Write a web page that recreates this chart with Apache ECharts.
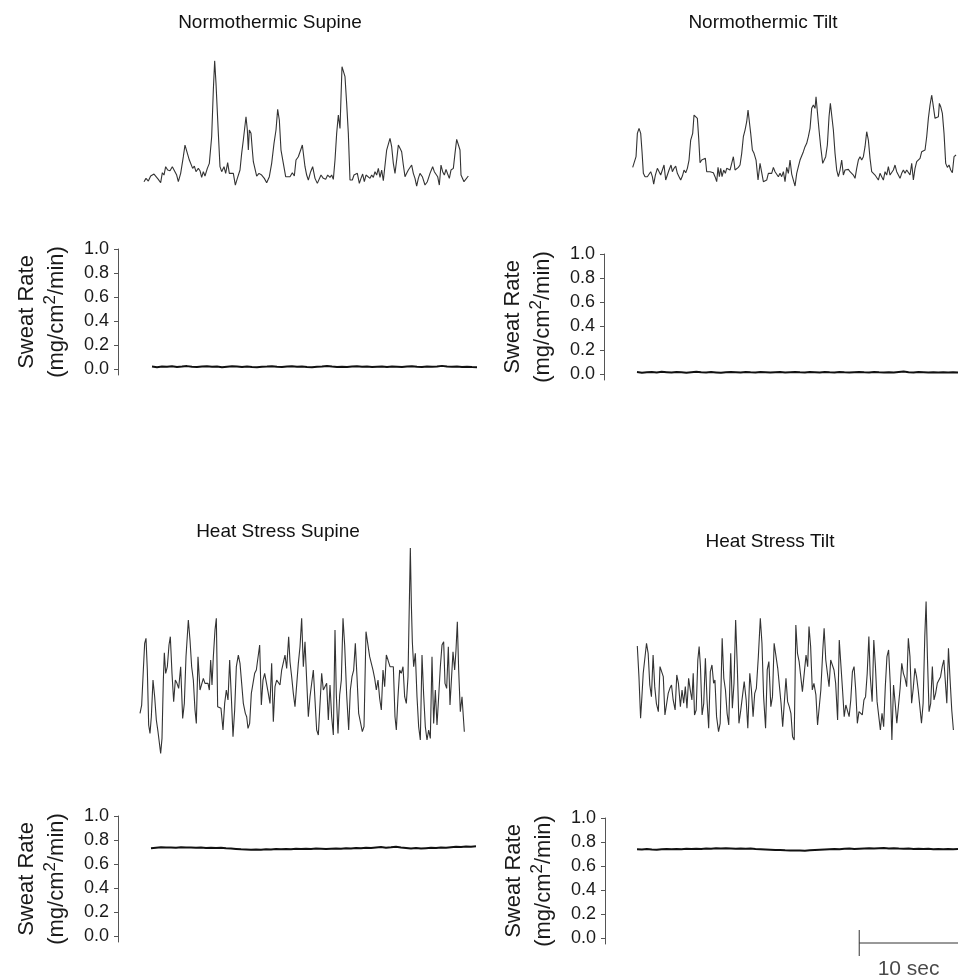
<!DOCTYPE html>
<html>
<head>
<meta charset="utf-8">
<script src="https://cdn.jsdelivr.net/npm/echarts@6/dist/echarts.min.js"></script>
<style>
  html, body { margin: 0; padding: 0; background: #fff; }
  #chart { width: 958px; height: 978px; }
</style>
</head>
<body>
<div id="chart"></div>
<script>
// integrated nerve traces: [sample @ 30 Hz, amplitude a.u.]
const SAMPLE_HZ = 30
const SWEAT_STEP = 0.5 // s between sweat rate samples

const panelTitles = ['Normothermic Supine', 'Normothermic Tilt', 'Heat Stress Supine', 'Heat Stress Tilt']
const sweatTicks = [0, 0.2, 0.4, 0.6, 0.8, 1.0]
const scaleBarStart = 22.5
const scaleBarSeconds = 10

const msnaNormoSupine = [
  [0,15],[6,25],[13,17],[20,32],[30,38],[36,40],[43,22],[50,12],[55,42],[60,35],[65,60],[71,50],[78,48],[85,60],[91,55],
  [98,35],[103,15],[110,40],[118,90],[123,125],[128,120],[136,80],[141,75],[146,55],[151,62],[156,45],[163,55],[168,48],
  [173,28],[178,45],[183,32],[190,55],[196,70],[203,150],[208,290],[212,378],[216,310],[223,160],[228,60],[233,45],[240,60],
  [245,40],[251,72],[256,40],[261,45],[268,40],[274,5],[280,25],[288,50],[293,100],[298,140],[303,135],[306,210],[310,170],
  [313,110],[316,170],[321,160],[325,110],[328,75],[333,80],[338,32],[345,40],[353,35],[361,25],[368,12],[376,30],[383,70],
  [390,130],[396,170],[401,232],[406,200],[411,110],[418,70],[425,30],[430,32],[438,30],[445,42],[451,32],[456,80],[463,90],
  [470,110],[475,125],[478,125],[483,60],[488,35],[493,20],[500,45],[506,60],[513,25],[520,10],[526,5],[531,35],[538,25],
  [545,22],[551,35],[558,28],[563,35],[568,22],[573,80],[578,160],[583,215],[588,175],[594,360],[598,365],[603,330],[608,250],
  [613,160],[618,20],[625,20],[630,35],[636,30],[640,40],[646,10],[651,25],[656,38],[661,15],[666,35],[671,37],[678,25],
  [683,35],[688,28],[693,45],[698,35],[703,55],[708,28],[713,50],[718,18],[723,22],[728,110],[733,112],[738,145],[743,120],
  [748,70],[753,40],[758,80],[763,125],[768,115],[773,105],[778,65],[783,30],[788,40],[793,50],[798,55],[803,65],[808,40],
  [813,25],[818,2],[823,25],[828,40],[835,30],[843,5],[850,15],[858,40],[866,60],[871,45],[876,50],[881,30],[886,5],[891,65],
  [896,45],[901,35],[906,52],[911,38],[916,25],[921,50],[928,55],[933,100],[938,142],[943,138],[948,110],[951,35],[955,38],
  [960,15],[966,20],[973,32]
]

const msnaNormoTilt = [
  [0,58],[5,52],[10,90],[14,160],[19,175],[24,160],[28,105],[32,40],[37,30],[44,30],[50,32],[54,45],[59,30],[63,8],[68,35],
  [74,55],[80,50],[84,35],[89,50],[94,65],[99,20],[104,35],[109,50],[115,65],[119,45],[124,55],[129,62],[134,40],[139,30],
  [144,20],[149,32],[154,50],[159,42],[164,55],[169,80],[174,140],[180,160],[184,215],[189,220],[194,205],[198,145],[202,72],
  [207,80],[212,85],[218,85],[222,45],[227,50],[232,45],[237,45],[242,42],[247,30],[252,15],[256,58],[260,30],[264,55],
  [268,30],[273,50],[278,40],[282,55],[287,50],[292,50],[297,55],[302,90],[307,50],[312,55],[317,58],[322,65],[327,100],
  [332,150],[337,170],[342,195],[346,230],[350,195],[354,160],[359,110],[364,100],[370,80],[376,20],[382,70],[387,70],
  [392,15],[397,10],[402,20],[407,40],[412,45],[417,40],[422,58],[427,45],[432,50],[437,30],[442,40],[447,30],[452,45],
  [457,15],[462,58],[467,40],[472,80],[477,38],[482,20],[487,2],[492,40],[497,60],[502,80],[507,80],[512,105],[517,120],
  [522,130],[527,150],[532,175],[537,235],[542,245],[547,235],[550,270],[554,225],[559,170],[564,120],[570,70],[574,75],
  [579,90],[584,125],[589,210],[593,250],[597,252],[602,170],[607,100],[612,50],[617,30],[622,50],[627,80],[632,35],[637,50],
  [642,45],[647,52],[652,45],[657,50],[662,35],[667,25],[672,55],[677,80],[682,90],[687,80],[692,90],[697,120],[702,165],
  [707,140],[712,85],[717,45],[722,45],[727,35],[732,40],[737,20],[742,40],[747,30],[752,20],[757,45],[762,35],[767,60],
  [772,35],[777,40],[782,50],[787,65],[792,45],[797,35],[802,25],[807,40],[812,50],[817,40],[822,50],[827,45],[832,35],
  [837,70],[842,20],[847,55],[852,75],[857,70],[862,85],[867,105],[872,110],[877,110],[882,150],[887,205],[892,245],
  [897,275],[902,240],[907,205],[912,200],[917,210],[920,250],[924,240],[929,220],[934,160],[939,70],[944,58],[949,65],
  [954,50],[959,42],[964,90],[970,95]
]

const msnaHeatSupine = [
  [0,130],[5,155],[10,260],[14,340],[18,355],[22,260],[26,95],[30,70],[34,120],[39,230],[44,180],[49,110],[54,75],[58,75],
  [62,10],[66,55],[70,230],[73,312],[77,250],[82,270],[87,335],[91,360],[96,250],[101,165],[106,230],[111,220],[116,205],
  [122,270],[128,115],[133,160],[138,300],[145,410],[150,350],[155,270],[160,230],[165,140],[169,100],[174,300],[180,200],
  [185,205],[190,235],[195,220],[200,215],[204,220],[208,200],[212,290],[216,215],[220,300],[225,380],[229,415],[233,150],
  [238,145],[243,145],[249,80],[254,160],[259,200],[264,170],[269,290],[274,180],[279,60],[284,140],[289,270],[295,305],
  [300,280],[305,220],[310,160],[316,130],[320,120],[324,85],[329,100],[334,190],[339,220],[344,250],[349,260],[354,260],
  [359,335],[364,155],[369,230],[374,250],[379,250],[384,195],[390,160],[395,280],[400,105],[405,210],[410,230],[415,230],
  [420,215],[425,260],[430,255],[435,305],[440,265],[446,360],[450,285],[455,240],[460,190],[465,150],[470,145],[475,280],
  [480,330],[485,415],[490,270],[495,345],[500,230],[505,120],[510,180],[515,185],[520,260],[525,255],[530,80],[535,65],
  [540,60],[545,250],[550,200],[555,200],[560,220],[565,110],[570,215],[575,120],[580,65],[585,380],[589,185],[594,70],
  [599,185],[604,230],[609,415],[614,335],[620,185],[626,80],[631,200],[636,240],[641,260],[646,340],[651,240],[656,130],
  [661,125],[667,75],[672,90],[678,375],[684,375],[689,300],[694,295],[699,260],[704,235],[709,200],[714,230],[719,175],
  [724,140],[729,260],[734,210],[739,305],[744,290],[750,270],[755,270],[760,270],[765,120],[769,80],[774,180],[779,260],
  [784,250],[789,270],[794,180],[799,160],[804,240],[808,460],[811,626],[814,460],[817,345],[821,270],[826,310],[831,180],
  [836,90],[841,50],[846,305],[851,185],[856,90],[861,50],[866,80],[871,55],[876,300],[881,100],[886,200],[891,95],[896,180],
  [901,270],[906,335],[911,345],[915,220],[920,205],[925,330],[930,155],[935,150],[939,315],[944,260],[948,320],[952,405],
  [956,260],[961,135],[966,180],[973,75]
]

const msnaHeatTilt = [
  [0,292],[5,200],[10,75],[14,140],[18,210],[23,210],[28,300],[33,270],[38,175],[43,140],[48,265],[53,170],[58,120],[64,95],
  [69,230],[74,235],[79,200],[84,85],[89,90],[94,150],[99,165],[104,175],[109,130],[115,100],[120,205],[125,180],[131,110],
  [136,160],[141,120],[146,170],[151,105],[156,195],[161,160],[166,130],[170,210],[174,85],[179,100],[184,250],[188,290],
  [192,230],[197,85],[202,120],[207,255],[212,130],[217,45],[222,215],[227,235],[232,180],[236,190],[241,80],[247,35],
  [252,60],[258,315],[263,195],[268,160],[273,90],[278,55],[284,270],[289,105],[294,180],[299,370],[304,230],[309,60],
  [314,95],[320,100],[325,185],[331,130],[336,45],[342,210],[347,160],[352,80],[357,150],[362,165],[368,260],[374,375],
  [379,300],[384,140],[390,45],[395,220],[400,245],[406,110],[411,140],[416,300],[422,300],[427,225],[432,225],[437,120],
  [442,50],[447,50],[452,195],[457,125],[462,110],[467,90],[472,20],[477,10],[482,355],[487,270],[492,245],[497,200],
  [502,155],[508,215],[513,265],[518,230],[522,350],[527,290],[532,160],[537,180],[543,145],[548,55],[553,55],[558,160],
  [564,280],[568,345],[573,250],[578,245],[583,170],[588,250],[593,245],[598,220],[603,180],[609,70],[614,310],[619,315],
  [624,160],[629,80],[634,115],[639,115],[644,80],[649,130],[654,215],[659,230],[664,160],[669,60],[674,95],[679,95],
  [684,85],[689,130],[694,140],[699,210],[704,320],[708,205],[714,125],[719,310],[724,230],[729,125],[734,120],[739,40],
  [744,90],[749,50],[754,170],[759,260],[764,280],[769,180],[774,10],[779,175],[784,120],[789,60],[794,55],[799,165],
  [804,240],[809,210],[814,195],[819,170],[824,315],[829,260],[834,120],[839,165],[844,225],[849,200],[854,160],[859,110],
  [864,60],[869,120],[874,320],[878,425],[882,260],[887,95],[892,120],[897,230],[902,130],[907,150],[912,180],[917,175],
  [922,200],[927,230],[932,250],[937,250],[941,120],[946,285],[951,190],[956,100],[961,40]
]

// sweat rate (mg/cm2/min), one value every 0.5 s
const sweatNormoSupine = [
  0.020, 0.015, 0.020, 0.018, 0.022, 0.017, 0.020, 0.024, 0.019, 0.016, 0.020, 0.022, 0.018, 0.020, 0.015, 0.019,
  0.022, 0.020, 0.017, 0.021, 0.016, 0.014, 0.018, 0.020, 0.023, 0.019, 0.016, 0.020, 0.022, 0.018, 0.020, 0.017,
  0.015, 0.019, 0.021, 0.024, 0.020, 0.017, 0.019, 0.016, 0.020, 0.022, 0.018, 0.020, 0.016, 0.019, 0.021, 0.017,
  0.020, 0.018, 0.016, 0.020, 0.022, 0.019, 0.017, 0.020, 0.018, 0.021, 0.026, 0.020, 0.018, 0.020, 0.017, 0.019,
  0.016, 0.015
]
const sweatNormoTilt = [
  0.016, 0.010, 0.014, 0.017, 0.013, 0.018, 0.015, 0.012, 0.016, 0.014, 0.011, 0.015, 0.018, 0.014, 0.012, 0.016,
  0.013, 0.010, 0.014, 0.017, 0.015, 0.012, 0.016, 0.014, 0.013, 0.017, 0.015, 0.012, 0.014, 0.016, 0.013, 0.015,
  0.017, 0.014, 0.012, 0.016, 0.015, 0.013, 0.017, 0.014, 0.012, 0.016, 0.014, 0.013, 0.015, 0.017, 0.014, 0.012,
  0.016, 0.014, 0.013, 0.015, 0.012, 0.016, 0.020, 0.015, 0.013, 0.016, 0.014, 0.012, 0.015, 0.013, 0.014, 0.012,
  0.014, 0.013
]
const sweatHeatSupine = [
  0.732, 0.736, 0.740, 0.737, 0.738, 0.736, 0.739, 0.737, 0.738, 0.735, 0.737, 0.734, 0.736, 0.733, 0.735, 0.731,
  0.730, 0.726, 0.722, 0.720, 0.718, 0.721, 0.719, 0.722, 0.720, 0.724, 0.722, 0.725, 0.723, 0.727, 0.724, 0.728,
  0.726, 0.729, 0.727, 0.725, 0.728, 0.730, 0.727, 0.731, 0.729, 0.733, 0.731, 0.735, 0.733, 0.737, 0.741, 0.736,
  0.739, 0.743, 0.738, 0.734, 0.730, 0.733, 0.729, 0.732, 0.735, 0.733, 0.738, 0.735, 0.740, 0.744, 0.742, 0.746,
  0.744, 0.748
]
const sweatHeatTilt = [
  0.740, 0.738, 0.741, 0.737, 0.736, 0.739, 0.741, 0.739, 0.742, 0.740, 0.743, 0.741, 0.744, 0.742, 0.745, 0.743,
  0.747, 0.745, 0.748, 0.746, 0.744, 0.746, 0.743, 0.745, 0.742, 0.740, 0.738, 0.736, 0.734, 0.733, 0.731, 0.730,
  0.729, 0.730, 0.728, 0.731, 0.733, 0.735, 0.737, 0.739, 0.741, 0.740, 0.743, 0.745, 0.742, 0.744, 0.746, 0.748,
  0.745, 0.747, 0.749, 0.746, 0.748, 0.745, 0.743, 0.745, 0.742, 0.744, 0.741, 0.743, 0.740, 0.742, 0.739, 0.741,
  0.740, 0.741
]

const msnaSets = [msnaNormoSupine, msnaNormoTilt, msnaHeatSupine, msnaHeatTilt]
const sweatSets = [sweatNormoSupine, sweatNormoTilt, sweatHeatSupine, sweatHeatTilt]

const FONT = 'Arial, "Liberation Sans", Helvetica, sans-serif'
const TRACE_SECONDS = 32.5

// layout (px) for each panel
const msnaBoxes = [
  { left: 144, top: 60.7, height: 126, yMax: 378 },
  { left: 632.7, top: 86.7, height: 100, yMax: 300 },
  { left: 140, top: 546.7, height: 210, yMax: 630 },
  { left: 637.3, top: 598.3, height: 145, yMax: 435 },
]
const sweatBoxes = [
  { left: 152, top: 249, axisX: 118 },
  { left: 637, top: 254, axisX: 604 },
  { left: 151, top: 816, axisX: 118 },
  { left: 637, top: 818, axisX: 605 },
]
const titlePos = [
  { x: 270, y: 13 },
  { x: 763, y: 13 },
  { x: 278, y: 522 },
  { x: 770, y: 532 },
]

const SWEAT_MIN = -0.05
const PX_PER_UNIT = 120

const chart = echarts.init(document.getElementById('chart'), null, { renderer: 'canvas' })

const grids = []
const xAxes = []
const yAxes = []
const series = []

msnaBoxes.forEach((b, i) => {
  grids.push({ left: b.left, top: b.top, width: TRACE_SECONDS * 10, height: b.height })
  xAxes.push({ gridIndex: grids.length - 1, type: 'value', min: 0, max: TRACE_SECONDS, show: false })
  yAxes.push({ gridIndex: grids.length - 1, type: 'value', min: 0, max: b.yMax, show: false })
  series.push({
    type: 'line',
    xAxisIndex: xAxes.length - 1,
    yAxisIndex: yAxes.length - 1,
    data: msnaSets[i].map(p => [p[0] / SAMPLE_HZ, p[1]]),
    showSymbol: false,
    lineStyle: { color: '#333', width: 1.1 },
    silent: true,
  })
})

sweatBoxes.forEach((b, i) => {
  grids.push({
    left: b.left, top: b.top,
    width: TRACE_SECONDS * 10,
    height: (1 - SWEAT_MIN) * PX_PER_UNIT,
  })
  xAxes.push({ gridIndex: grids.length - 1, type: 'value', min: 0, max: TRACE_SECONDS, show: false })
  yAxes.push({
    gridIndex: grids.length - 1,
    type: 'value',
    min: SWEAT_MIN, max: 1,
    offset: b.left - b.axisX,
    splitLine: { show: false },
    axisLine: { show: true, onZero: false, lineStyle: { color: '#555', width: 1 } },
    axisTick: { show: true, length: 4, customValues: sweatTicks, lineStyle: { color: '#555' } },
    axisLabel: {
      customValues: sweatTicks,
      formatter: v => v.toFixed(1),
      color: '#1a1a1a', fontSize: 18, fontFamily: FONT, margin: 9,
    },
    name: '{t|Sweat Rate}\n{t|(mg/cm}{s|2}{t|/min)}',
    nameLocation: 'middle',
    nameGap: 46,
    nameRotate: 90,
    nameTextStyle: {
      rich: {
        t: { fontSize: 22, fontFamily: FONT, color: '#1a1a1a', lineHeight: 30 },
        s: { fontSize: 17, fontFamily: FONT, color: '#1a1a1a', lineHeight: 18, verticalAlign: 'top' },
      },
    },
  })
  series.push({
    type: 'line',
    xAxisIndex: xAxes.length - 1,
    yAxisIndex: yAxes.length - 1,
    data: sweatSets[i].map((v, k) => [k * SWEAT_STEP, v]),
    showSymbol: false,
    lineStyle: { color: '#111', width: 2 },
    silent: true,
  })
})

// time scale bar, drawn on the heat-stress tilt time axis
grids.push({ left: 637, top: 930, width: TRACE_SECONDS * 10, height: 26 })
xAxes.push({ gridIndex: grids.length - 1, type: 'value', min: 0, max: TRACE_SECONDS, show: false })
yAxes.push({ gridIndex: grids.length - 1, type: 'value', min: 0, max: 1, show: false })
const barX = xAxes.length - 1
series.push({
  type: 'line', xAxisIndex: barX, yAxisIndex: barX, clip: false,
  data: [[scaleBarStart, 0.5], [scaleBarStart + scaleBarSeconds, 0.5]],
  showSymbol: false, lineStyle: { color: '#333', width: 1 }, silent: true,
})
series.push({
  type: 'line', xAxisIndex: barX, yAxisIndex: barX, clip: false,
  data: [[scaleBarStart, 0], [scaleBarStart, 1]],
  showSymbol: false, lineStyle: { color: '#333', width: 1 }, silent: true,
})
series.push({
  type: 'scatter', xAxisIndex: barX, yAxisIndex: barX, clip: false,
  data: [[scaleBarStart + scaleBarSeconds / 2, 0]],
  symbolSize: 0,
  label: {
    show: true, position: 'bottom', distance: 3,
    formatter: scaleBarSeconds + ' sec',
    color: '#1a1a1a', fontSize: 21, fontFamily: FONT,
  },
  silent: true,
})

chart.setOption({
  animation: false,
  backgroundColor: '#fff',
  title: panelTitles.map((t, i) => ({
    text: t,
    left: titlePos[i].x,
    top: titlePos[i].y,
    textAlign: 'center',
    padding: 0,
    textStyle: { fontSize: 19, fontWeight: 'normal', fontFamily: FONT, color: '#111' },
  })),
  grid: grids,
  xAxis: xAxes,
  yAxis: yAxes,
  series,
})
</script>
</body>
</html>
